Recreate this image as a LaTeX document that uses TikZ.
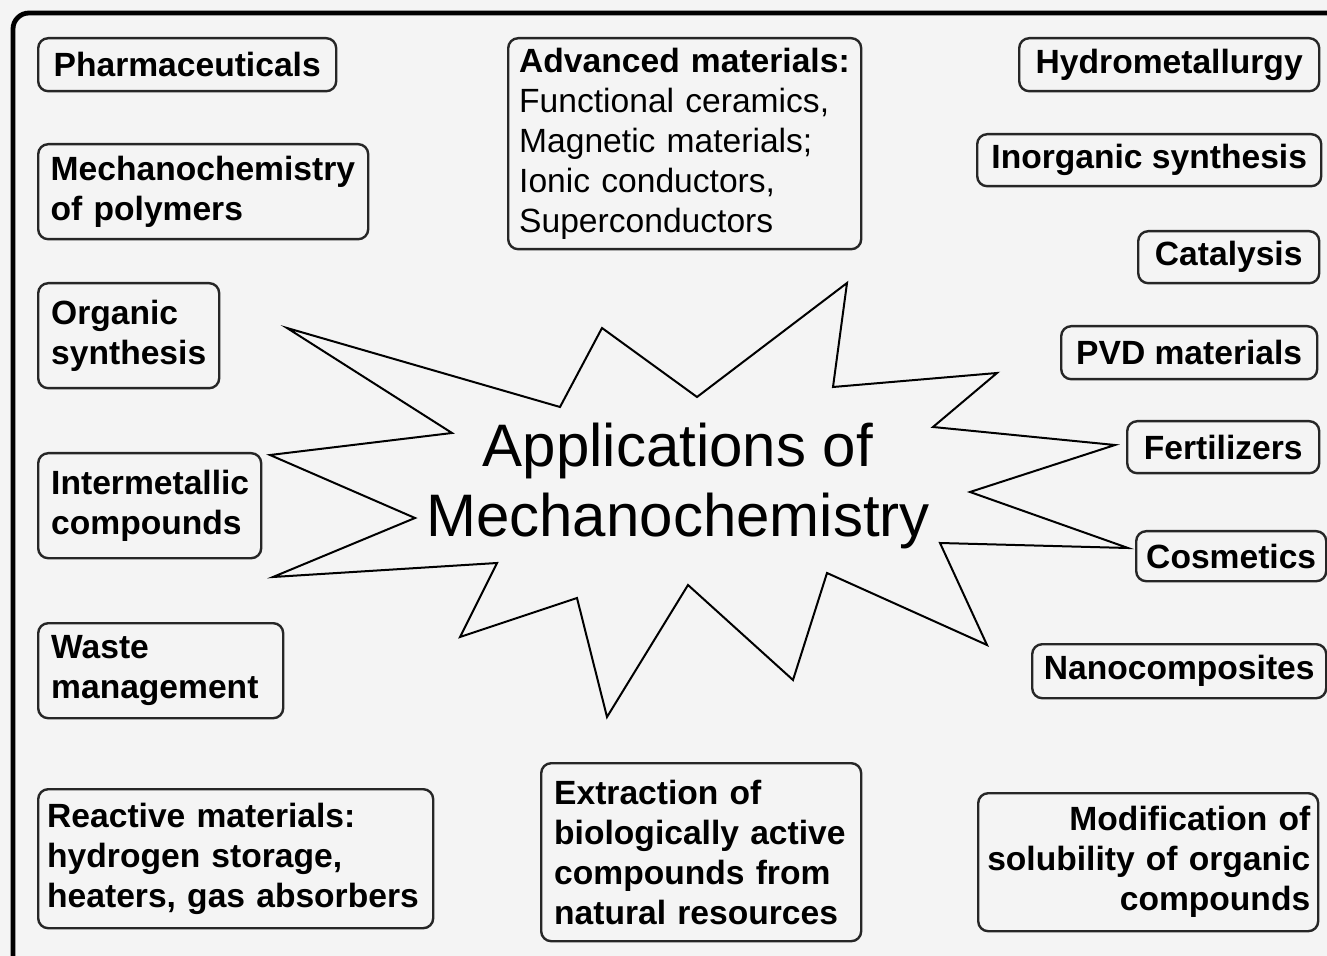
\documentclass[tikz,border=0pt]{standalone}
\usepackage{fontspec}
\setmainfont{Liberation Sans}
\usepackage{tikz}
\usetikzlibrary{positioning}
\definecolor{bg}{HTML}{F4F4F4}
\newcommand{\boxfont}{\fontsize{16.8}{20}\selectfont\bfseries}
\newcommand{\titlefont}{\fontsize{30}{35}\selectfont}

\begin{document}
\begin{tikzpicture}[x=0.5pt, y=-0.5pt, app/.style={draw=black!85, line width=1.2pt, rounded corners=5pt, fill=bg, anchor=north west, inner xsep=6.5pt, inner ysep=2pt, font=\boxfont}, one/.style={app, align=center}, multi/.style={app, align=left}, star/.style={draw=black, line width=1pt, line join=miter}]
	\useasboundingbox (0,0) rectangle (1327,956);
	\fill[bg] (0,0) rectangle (1327,956);
	\begin{scope}
		\clip (0,0) rectangle (1327,956);
		\draw[line width=2.4pt, rounded corners=8pt] (13,13) rectangle (1350,980);
	\end{scope}
	% burst in the middle
	\draw[star] (287,328) -- (560,407) -- (602,328) -- (697,397) -- (847,283) -- (833,387) -- (997,373) -- (933,427) -- (1115,445) -- (970,492) -- (1128,548) -- (940,543) -- (987,645) -- (827,573) -- (793,680) -- (688,585) -- (607,717) -- (577,598) -- (460,637) -- (497,563) -- (273,577) -- (415,518) -- (270,455) -- (452,433) -- cycle;
	\node[font=\titlefont, align=center] (title) at (678,486) {Applications of\\Mechanochemistry};
	% left column
	\node[one, minimum width=149pt, minimum height=26.5pt] (pharma) at (37,37) {Pharmaceuticals};
	\node[multi, inner xsep=6.25pt, text width=152.5pt, minimum height=47.5pt] (polym) at (37,143) {Mechanochemistry\\of polymers};
	\node[multi, text width=77.5pt, minimum height=52.5pt] (orgsyn) at (37,282) {Organic\\synthesis};
	\node[multi, text width=98.5pt, minimum height=52.5pt] (intermet) at (37,452) {Intermetallic\\compounds};
	\node[multi, text width=109.5pt, minimum height=47.5pt] (waste) at (37,622) {Waste\\management};
	\node[multi, inner xsep=4.5pt, text width=188.5pt, minimum height=69.5pt] (react) at (37,788) {Reactive materials:\\hydrogen storage,\\heaters, gas absorbers};
	% middle
	\node[multi, inner xsep=5.5pt, text width=165.5pt, minimum height=105.5pt] (adv) at (507,37) {Advanced materials:\\\mdseries Functional ceramics,\\\mdseries Magnetic materials;\\\mdseries Ionic conductors,\\\mdseries Superconductors};
	\node[multi, text width=147pt, minimum height=89pt] (extract) at (540,762) {Extraction of\\biologically active\\compounds from\\natural resources};
	% right column
	\foreach \n/\x/\y/\w/\h/\t in {hydro/1018/37/150/26.5/Hydrometallurgy, inorg/976/133/172/26/Inorganic synthesis, catal/1137/230/90.5/26/Catalysis, pvd/1060/325/128/26.5/PVD materials, fert/1126/420/96/26/Fertilizers, cosm/1135/530/95/25/Cosmetics, nano/1031/643/147/27/Nanocomposites}
		{\node[one, inner xsep=3pt, minimum width=\w pt, minimum height=\h pt] (\n) at (\x,\y) {\t};}
	\node[app, align=right, inner xsep=4pt, text width=162pt, minimum height=69pt] (modif) at (977,792) {Modification of\\solubility of organic\\compounds};
\end{tikzpicture}
\end{document}
